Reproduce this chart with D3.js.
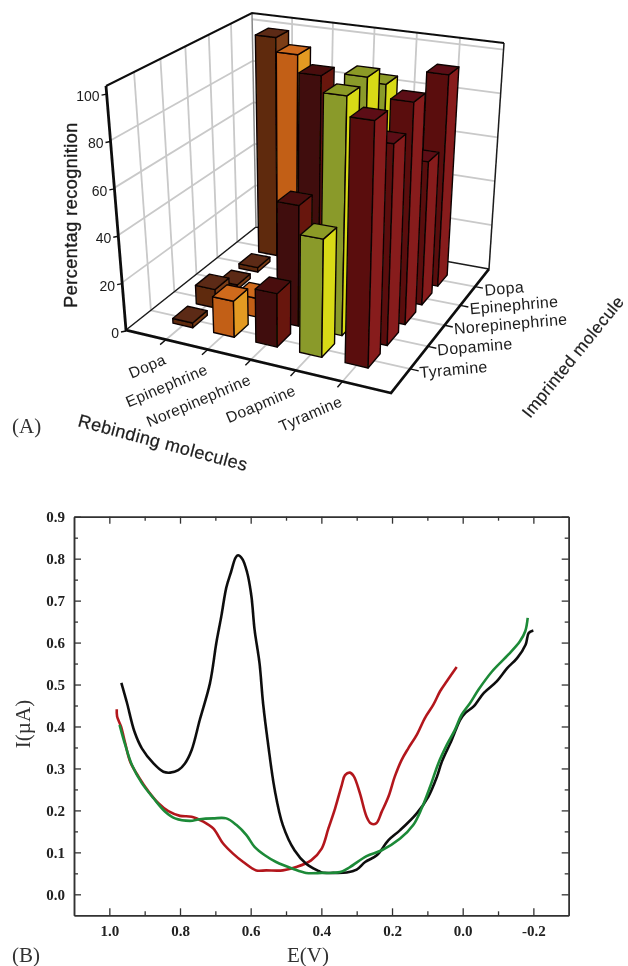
<!DOCTYPE html>
<html>
<head>
<meta charset="utf-8">
<script src="https://cdn.jsdelivr.net/npm/d3@7"></script>
<style>
body { margin: 0; background: #fff; }
svg { display: block; }
</style>
</head>
<body>
<div id="chart"></div>
<script>
// panel A: % recognition, one row per imprinted molecule (front row first)
const rebinding = ["Dopa", "Epinephrine", "Norepinephrine", "Doapmine", "Tyramine"];
const imprinted = ["Tyramine", "Dopamine", "Norepinephrine", "Epinephrine", "Dopa"];
const rowTyramine = [2, 15, 22, 48, 99];
const rowDopamine = [8, 8, 51, 100, 83];
const rowNorepinephrine = [2, 0, 100, 102, 94];
const rowEpinephrine = [2, 101, 0, 93, 62];
const rowDopa = [101, 0, 0, 0, 94];
const rows = [rowTyramine, rowDopamine, rowNorepinephrine, rowEpinephrine, rowDopa];
const percentTicks = [0, 20, 40, 60, 80, 100];

// panel B: voltammograms as [E, I]
const blackCurve = [[.966,.504],[.95,.456],[.929,.388],[.908,.348],[.875,.312],[.847,.292],[.828,.29],[.805,.296],[.786,.312],[.767,.344],[.744,.416],[.715,.504],[.697,.6],[.683,.663],[.669,.731],[.655,.77],[.643,.802],[.636,.808],[.624,.8],[.61,.767],[.598,.711],[.589,.631],[.575,.551],[.565,.456],[.551,.36],[.532,.249],[.509,.165],[.476,.105],[.443,.073],[.406,.055],[.399,.052],[.366,.051],[.328,.052],[.3,.059],[.276,.077],[.243,.093],[.21,.129],[.177,.153],[.13,.193],[.097,.233],[.073,.28],[.059,.316],[.031,.368],[.007,.416],[-.007,.432],[-.031,.448],[-.06,.48],[-.097,.508],[-.126,.539],[-.154,.563],[-.178,.595],[-.187,.623],[-.2,.629]];
const redCurve = [[.979,.441],[.978,.424],[.967,.4],[.955,.36],[.941,.316],[.917,.28],[.889,.245],[.861,.217],[.833,.198],[.8,.187],[.767,.185],[.734,.173],[.706,.157],[.678,.121],[.65,.097],[.621,.077],[.584,.057],[.556,.057],[.509,.057],[.471,.065],[.429,.081],[.399,.109],[.38,.157],[.361,.205],[.342,.261],[.333,.284],[.319,.29],[.308,.281],[.291,.241],[.272,.185],[.26,.169],[.245,.169],[.229,.197],[.21,.233],[.192,.281],[.173,.32],[.154,.348],[.13,.38],[.107,.42],[.083,.452],[.064,.484],[.045,.508],[.017,.542]];
const greenCurve = [[.971,.404],[.955,.356],[.936,.308],[.908,.265],[.875,.229],[.842,.197],[.814,.181],[.772,.175],[.744,.179],[.706,.181],[.669,.181],[.64,.165],[.612,.141],[.589,.113],[.56,.093],[.528,.077],[.481,.061],[.443,.051],[.399,.051],[.347,.053],[.319,.065],[.272,.091],[.229,.105],[.177,.133],[.14,.165],[.116,.205],[.092,.257],[.069,.312],[.045,.356],[.022,.392],[.003,.428],[-.021,.456],[-.045,.488],[-.083,.531],[-.129,.571],[-.162,.603],[-.177,.627],[-.184,.659]];
const eTicks = [1.0, 0.8, 0.6, 0.4, 0.2, 0.0, -0.2];
const eMinor = [0.9, 0.7, 0.5, 0.3, 0.1, -0.1];
const iTicks = [0, .1, .2, .3, .4, .5, .6, .7, .8, .9];
const iMinor = [.05, .15, .25, .35, .45, .55, .65, .75, .85];

const svg = d3.select("#chart").append("svg")
    .attr("width", 628)
    .attr("height", 966);

svg.append("defs").append("filter").attr("id", "soft")
    .append("feGaussianBlur").attr("stdDeviation", 0.45);

const page = svg.append("g").attr("filter", "url(#soft)");

drawBars(page.append("g"));
drawCurves(page.append("g"));

// unit square -> pixel quad, corners in order (0,0) (1,0) (1,1) (0,1)
function quadMap(q) {
    const dx1 = q[1][0] - q[2][0], dx2 = q[3][0] - q[2][0], sx = q[0][0] - q[1][0] + q[2][0] - q[3][0];
    const dy1 = q[1][1] - q[2][1], dy2 = q[3][1] - q[2][1], sy = q[0][1] - q[1][1] + q[2][1] - q[3][1];
    const den = dx1 * dy2 - dx2 * dy1;
    const g = (sx * dy2 - dx2 * sy) / den;
    const h = (dx1 * sy - sx * dy1) / den;
    const a = q[1][0] - q[0][0] + g * q[1][0], b = q[3][0] - q[0][0] + h * q[3][0];
    const d = q[1][1] - q[0][1] + g * q[1][1], e = q[3][1] - q[0][1] + h * q[3][1];
    return function (u, v) {
        const w = g * u + h * v + 1;
        return [(a * u + b * v + q[0][0]) / w, (d * u + e * v + q[0][1]) / w];
    };
}

function drawBars(g) {
    const floor = quadMap([[126, 330], [391, 393], [489, 269], [256, 227]]);
    const ceiling = quadMap([[106, 86], [399, 127], [504, 43], [252, 13]]);
    // the box runs a little past 100
    const heightScale = d3.scaleLinear().domain([0, 103]).range([0, 1]);
    const uScale = d3.scalePoint().domain(rebinding).range([1 / 6, 5 / 6]);
    const vScale = d3.scalePoint().domain(imprinted).range([1 / 6, 5 / 6]);

    function project(u, v, p) {
        const a = floor(u, v), b = ceiling(u, v), t = heightScale(p);
        return [a[0] + (b[0] - a[0]) * t, a[1] + (b[1] - a[1]) * t];
    }
    const line = d3.line();

    // walls and floor grid
    const gridLines = [];
    const steps = [1, 2, 3, 4, 5].map(function (k) { return k / 6; });
    steps.forEach(function (k) {
        gridLines.push([project(k, 0, 0), project(k, 1, 0)]);
        gridLines.push([project(0, k, 0), project(1, k, 0)]);
        gridLines.push([project(0, k, 0), project(0, k, 103)]);
        gridLines.push([project(k, 1, 0), project(k, 1, 103)]);
    });
    percentTicks.slice(1, 5).forEach(function (p) {
        gridLines.push([project(0, 0, p), project(0, 1, p)]);
    });
    percentTicks.slice(1).forEach(function (p) {
        gridLines.push([project(0, 1, p), project(1, 1, p)]);
    });
    g.selectAll(".grid").data(gridLines).join("path")
        .attr("class", "grid")
        .attr("d", line)
        .attr("fill", "none")
        .attr("stroke", "#c9c9c9")
        .attr("stroke-width", 1.8);

    // inner edges
    const innerEdges = [
        [project(0, 0, 0), project(0, 1, 0), project(1, 1, 0)],
        [project(1, 1, 0), project(1, 1, 103)]
    ];
    g.selectAll(".inner").data(innerEdges).join("path")
        .attr("class", "inner")
        .attr("d", line)
        .attr("fill", "none")
        .attr("stroke", "#1a1a1a")
        .attr("stroke-width", 1.5);
    g.append("path")
        .attr("d", line([project(0, 1, 0), project(0, 1, 103)]))
        .attr("stroke", "#888")
        .attr("stroke-width", 1.5);

    // outer frame
    g.append("path")
        .attr("d", line([project(0, 0, 103), project(0, 1, 103), project(1, 1, 103)]))
        .attr("fill", "none")
        .attr("stroke", "#111")
        .attr("stroke-width", 2);
    g.append("path")
        .attr("d", line([project(0, 0, 103), project(0, 0, 0), project(1, 0, 0), project(1, 1, 0)]))
        .attr("fill", "none")
        .attr("stroke", "#0c0c0c")
        .attr("stroke-width", 2.8);

    // bars, back row first so nearer ones paint over
    const faceColors = [
        { left: "#5f2c10", right: "#7b3c14", top: "#5c2a12" },
        { left: "#c25e18", right: "#e39a20", top: "#cf6a1c" },
        { left: "#3f0f0a", right: "#681410", top: "#4a110d" },
        { left: "#8a9a2a", right: "#d8da14", top: "#8c9a26" },
        { left: "#5a1010", right: "#871a1b", top: "#5c1012" }
    ];
    const halfU = 0.041, halfV = 0.052;
    const bars = [];
    d3.range(4, -1, -1).forEach(function (r) {
        rebinding.forEach(function (name, c) {
            if (rows[r][c] > 0) {
                bars.push({ u: uScale(name), v: vScale(imprinted[r]), p: rows[r][c], colors: faceColors[c] });
            }
        });
    });
    const barGroup = g.selectAll(".bar").data(bars).join("g").attr("class", "bar");
    function addFace(which, corners) {
        barGroup.append("path")
            .attr("d", function (d) {
                return line(corners(d)) + "Z";
            })
            .attr("fill", function (d) { return d.colors[which]; })
            .attr("stroke", "#0e0605")
            .attr("stroke-width", 1.4)
            .attr("stroke-linejoin", "round");
    }
    addFace("left", function (d) {
        return [project(d.u - halfU, d.v - halfV, 0), project(d.u + halfU, d.v - halfV, 0),
            project(d.u + halfU, d.v - halfV, d.p), project(d.u - halfU, d.v - halfV, d.p)];
    });
    addFace("right", function (d) {
        return [project(d.u + halfU, d.v - halfV, 0), project(d.u + halfU, d.v + halfV, 0),
            project(d.u + halfU, d.v + halfV, d.p), project(d.u + halfU, d.v - halfV, d.p)];
    });
    addFace("top", function (d) {
        return [project(d.u - halfU, d.v - halfV, d.p), project(d.u + halfU, d.v - halfV, d.p),
            project(d.u + halfU, d.v + halfV, d.p), project(d.u - halfU, d.v + halfV, d.p)];
    });

    // ticks and labels
    const labelFont = "'Liberation Sans', Arial, sans-serif";
    const labelColor = "#1c1c1c";
    g.selectAll(".ytick").data(percentTicks).join("path")
        .attr("class", "ytick")
        .attr("d", function (p) {
            const a = project(0, 0, p);
            return line([[a[0], a[1] + 1], [a[0] - 5, a[1] + 2]]);
        })
        .attr("stroke", "#111").attr("stroke-width", 1.4);
    g.selectAll(".ylabel").data(percentTicks).join("text")
        .attr("class", "ylabel")
        .attr("x", function (p) { return project(0, 0, p)[0] - 7; })
        .attr("y", function (p) { return project(0, 0, p)[1] + 8; })
        .attr("text-anchor", "end")
        .attr("font-family", labelFont)
        .attr("font-size", 14)
        .attr("fill", labelColor)
        .text(function (p) { return p; });

    g.selectAll(".utick").data(rebinding).join("path")
        .attr("class", "utick")
        .attr("d", function (d) {
            return line([project(uScale(d), 0, 0), project(uScale(d), -0.04, 0)]);
        })
        .attr("stroke", "#111").attr("stroke-width", 1.4);
    g.selectAll(".ulabel").data(rebinding).join("text")
        .attr("class", "ulabel")
        .attr("transform", function (d) {
            const a = project(uScale(d), 0, 0);
            return "translate(" + (a[0] + 1) + "," + (a[1] + 24) + ") rotate(-23)";
        })
        .attr("text-anchor", "end")
        .attr("font-family", labelFont)
        .attr("font-size", 15.5)
        .attr("letter-spacing", 0.4)
        .attr("fill", labelColor)
        .text(function (d) { return d; });

    g.selectAll(".vtick").data(imprinted).join("path")
        .attr("class", "vtick")
        .attr("d", function (d) {
            return line([project(1, vScale(d), 0), project(1.03, vScale(d), 0)]);
        })
        .attr("stroke", "#111").attr("stroke-width", 1.4);
    g.selectAll(".vlabel").data(imprinted).join("text")
        .attr("class", "vlabel")
        .attr("transform", function (d) {
            const a = project(1, vScale(d), 0);
            return "translate(" + (a[0] + 10) + "," + (a[1] + 9) + ") rotate(-5)";
        })
        .attr("font-family", labelFont)
        .attr("font-size", 16)
        .attr("letter-spacing", 0.3)
        .attr("fill", labelColor)
        .text(function (d) { return d; });

    g.append("text")
        .attr("transform", "translate(77,215) rotate(-90)")
        .attr("text-anchor", "middle")
        .attr("font-family", labelFont)
        .attr("font-size", 18)
        .attr("letter-spacing", 0.5)
        .attr("stroke", labelColor)
        .attr("stroke-width", 0.35)
        .attr("fill", labelColor)
        .text("Percentag recognition");
    g.append("text")
        .attr("transform", "translate(77,426) rotate(15)")
        .attr("font-family", labelFont)
        .attr("font-size", 18)
        .attr("letter-spacing", 0.4)
        .attr("stroke", labelColor)
        .attr("stroke-width", 0.2)
        .attr("fill", labelColor)
        .text("Rebinding molecules");
    g.append("text")
        .attr("transform", "translate(530,419) rotate(-51)")
        .attr("font-family", labelFont)
        .attr("font-size", 17)
        .attr("letter-spacing", 0.4)
        .attr("stroke", labelColor)
        .attr("stroke-width", 0.2)
        .attr("fill", labelColor)
        .text("Imprinted molecule");
    g.append("text")
        .attr("x", 12).attr("y", 433)
        .attr("font-family", "'Liberation Serif', serif")
        .attr("font-size", 21)
        .attr("fill", "#333")
        .text("(A)");
}

function drawCurves(g) {
    const left = 74, right = 568.7, top = 516.7, bottom = 915.3;
    const x = d3.scaleLinear().domain([1.1, -0.3]).range([left, right]);
    const y = d3.scaleLinear().domain([-0.05, 0.9]).range([bottom, top]);
    const serif = "'Liberation Serif', serif";

    function styleAxis(a) {
        a.select(".domain").attr("stroke", "#333").attr("stroke-width", 1.5);
        a.selectAll(".tick line").attr("stroke", "#333").attr("stroke-width", 1.3);
        a.selectAll("text")
            .attr("font-family", serif)
            .attr("font-weight", "bold")
            .attr("font-size", 15)
            .attr("fill", "#222");
    }
    function addAxis(axis, dx, dy) {
        g.append("g").attr("transform", "translate(" + dx + "," + dy + ")").call(axis).call(styleAxis);
    }
    // plain hyphen for the negative tick, like the original
    const fmt = function (d) { return d3.format(".1f")(d).replace("\u2212", "-"); };
    addAxis(d3.axisBottom(x).tickValues(eMinor).tickSize(-4).tickSizeOuter(0).tickFormat(""), 0, bottom);
    addAxis(d3.axisTop(x).tickValues(eMinor).tickSize(-4).tickSizeOuter(0).tickFormat(""), 0, top);
    addAxis(d3.axisLeft(y).tickValues(iMinor).tickSize(-4).tickSizeOuter(0).tickFormat(""), left, 0);
    addAxis(d3.axisRight(y).tickValues(iMinor).tickSize(-4).tickSizeOuter(0).tickFormat(""), right, 0);
    addAxis(d3.axisBottom(x).tickValues(eTicks).tickSize(-7).tickSizeOuter(0).tickPadding(10).tickFormat(fmt), 0, bottom);
    addAxis(d3.axisTop(x).tickValues(eTicks).tickSize(-7).tickSizeOuter(0).tickFormat(""), 0, top);
    addAxis(d3.axisLeft(y).tickValues(iTicks).tickSize(-7).tickSizeOuter(0).tickPadding(9).tickFormat(fmt), left, 0);
    addAxis(d3.axisRight(y).tickValues(iTicks).tickSize(-7).tickSizeOuter(0).tickFormat(""), right, 0);

    const curve = d3.line()
        .x(function (d) { return x(d[0]); })
        .y(function (d) { return y(d[1]); })
        .curve(d3.curveCatmullRom.alpha(0.5));

    [[redCurve, "#b3181e"], [blackCurve, "#111"], [greenCurve, "#1e8a38"]].forEach(function (s) {
        g.append("path")
            .attr("d", curve(s[0]))
            .attr("fill", "none")
            .attr("stroke", s[1])
            .attr("stroke-width", 2.6);
    });

    g.append("text")
        .attr("transform", "translate(30,724) rotate(-90)")
        .attr("text-anchor", "middle")
        .attr("font-family", serif)
        .attr("font-size", 21)
        .attr("fill", "#333")
        .text("I(µA)");
    g.append("text")
        .attr("x", 308).attr("y", 962)
        .attr("text-anchor", "middle")
        .attr("font-family", serif)
        .attr("font-size", 21)
        .attr("fill", "#333")
        .text("E(V)");
    g.append("text")
        .attr("x", 12).attr("y", 962)
        .attr("font-family", serif)
        .attr("font-size", 21)
        .attr("fill", "#333")
        .text("(B)");
}
</script>
</body>
</html>
